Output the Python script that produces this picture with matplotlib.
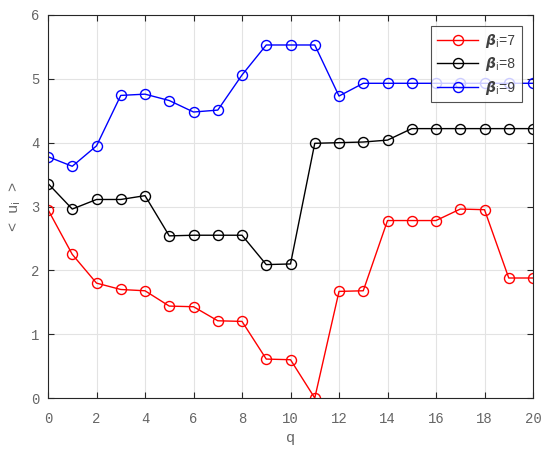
import matplotlib.pyplot as plt
import numpy as np

q = np.arange(0, 21)

u_b7 = [2.95, 2.25, 1.80, 1.70, 1.68, 1.44, 1.43, 1.21, 1.20, 0.61, 0.60,
        0.00, 1.67, 1.68, 2.78, 2.78, 2.78, 2.96, 2.95, 1.88, 1.88]
u_b8 = [3.36, 2.96, 3.11, 3.11, 3.17, 2.54, 2.55, 2.55, 2.55, 2.09, 2.10,
        3.99, 4.00, 4.01, 4.04, 4.22, 4.22, 4.22, 4.22, 4.22, 4.22]
u_b9 = [3.78, 3.63, 3.95, 4.74, 4.76, 4.66, 4.48, 4.51, 5.06, 5.53, 5.53,
        5.53, 4.73, 4.93, 4.93, 4.93, 4.93, 4.93, 4.93, 4.93, 4.93]

series = [(u_b7, 'red', '7'), (u_b8, 'black', '8'), (u_b9, 'blue', '9')]

plt.rcParams['font.family'] = ['Liberation Mono', 'DejaVu Sans']
plt.rcParams['mathtext.fontset'] = 'dejavusans'

fig = plt.figure(figsize=(5.5, 4.54), dpi=100)
ax = fig.add_axes([0.0873, 0.1233, 0.8818, 0.8437])

for vals, col, b in series:
    ax.plot(q, vals, '-o', color=col, lw=1.0, ms=7.2, mfc='none', mew=1.0,
            label=r'$\mathbfit{\beta}_{\mathrm{i}}$=' + b)

ax.set_xlim(0, 20)
ax.set_ylim(0, 6)
ax.set_xticks(np.arange(0, 21, 2))
ax.set_yticks(np.arange(0, 7, 1))
ax.grid(True, color='#e3e3e3', lw=0.8)
ax.set_axisbelow(True)
ax.tick_params(direction='in', top=True, right=True, labelsize=10,
               colors='#262626', labelcolor='#666666', length=4)
ax.tick_params(axis='x', pad=10)
ax.tick_params(axis='y', pad=6)
for s in ax.spines.values():
    s.set_color('#262626')
    s.set_linewidth(0.8)

ax.set_xlabel('q', fontsize=11, color='#666666', labelpad=4)
ax.set_ylabel(r'< u$_{\mathrm{i}}$ >', fontsize=11, color='#666666', labelpad=6)

leg = ax.legend(loc='upper right', fontsize=10, frameon=True, fancybox=False,
                edgecolor='#262626', borderaxespad=0.8, handlelength=3.0,
                handletextpad=0.5, labelspacing=0.4, borderpad=0.4)
leg.get_frame().set_linewidth(0.8)
for t in leg.get_texts():
    t.set_color('#404040')

fig.savefig('out.png', dpi=100)
